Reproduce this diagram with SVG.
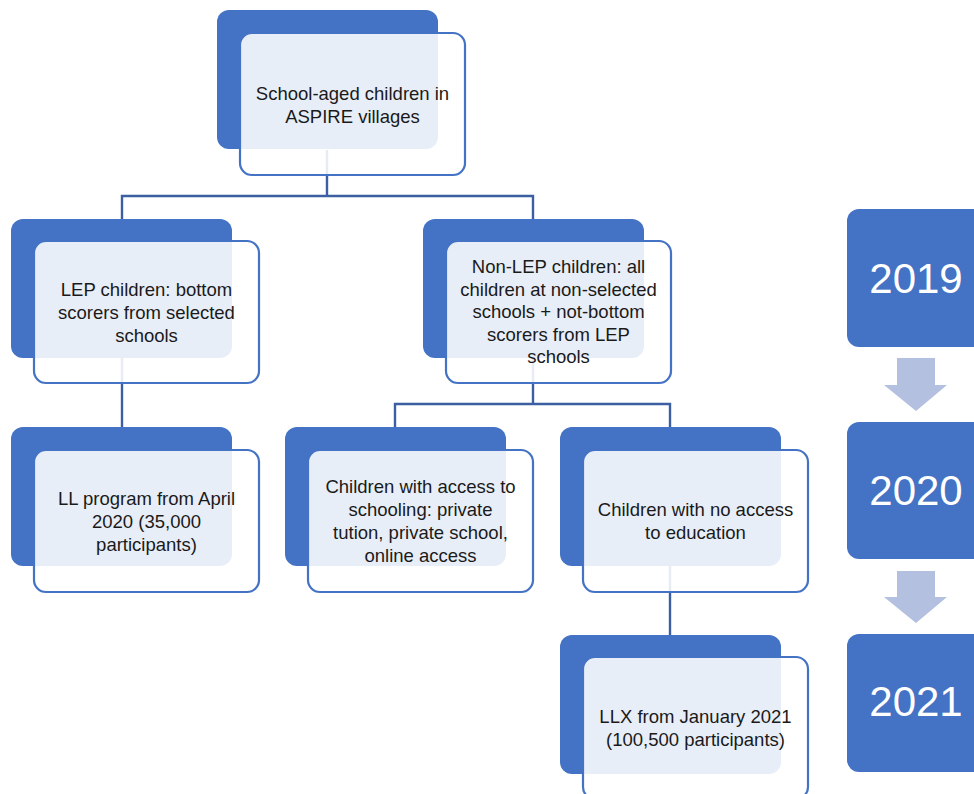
<svg xmlns="http://www.w3.org/2000/svg" width="974" height="794" viewBox="0 0 974 794">
<defs>
<style>
.back{fill:#4472C4;}
.front{fill:#ffffff;fill-opacity:0.88;stroke:#4472C4;stroke-width:2.2;}
.t{font-family:"Liberation Sans",Arial,sans-serif;font-size:18.5px;fill:#1a1a1a;text-anchor:middle;}
.yr{fill:#4472C4;}
.yt{font-family:"Liberation Sans",Arial,sans-serif;font-size:42px;fill:#ffffff;text-anchor:middle;}
.conn{fill:none;stroke:#3C5FA3;stroke-width:2.4;}
.arr{fill:#B3C0E0;}
</style>
</defs>
<rect width="974" height="794" fill="#ffffff"/>
<g id="connectors">
<path class="conn" d="M327,150 V196 M122,219 V196 H533 V219"/>
<path class="conn" d="M122,358 V427"/>
<path class="conn" d="M533,358 V404 M395,427 V404 H670 V427"/>
<path class="conn" d="M670,566 V635"/>
</g>
<g id="n-top">
<rect class="back" x="217" y="10" width="221" height="139" rx="12"/>
<rect class="front" x="240" y="33" width="225" height="142" rx="12"/>
<text class="t" x="352.5" y="100"><tspan x="352.5">School-aged children in</tspan><tspan x="352.5" dy="23">ASPIRE villages</tspan></text>
</g>
<g id="n-lep">
<rect class="back" x="11" y="219" width="221" height="139" rx="12"/>
<rect class="front" x="34" y="241" width="225" height="142" rx="12"/>
<text class="t" x="146.5" y="296"><tspan x="146.5">LEP children: bottom</tspan><tspan x="146.5" dy="23">scorers from selected</tspan><tspan x="146.5" dy="23">schools</tspan></text>
</g>
<g id="n-nonlep">
<rect class="back" x="423" y="219" width="221" height="139" rx="12"/>
<rect class="front" x="446" y="241" width="225" height="142" rx="12"/>
<text class="t" x="558.5" y="273"><tspan x="558.5">Non-LEP children: all</tspan><tspan x="558.5" dy="22.5">children at non-selected</tspan><tspan x="558.5" dy="22.5">schools + not-bottom</tspan><tspan x="558.5" dy="22.5">scorers from LEP</tspan><tspan x="558.5" dy="22.5">schools</tspan></text>
</g>
<g id="n-ll">
<rect class="back" x="11" y="427" width="221" height="139" rx="12"/>
<rect class="front" x="34" y="450" width="225" height="142" rx="12"/>
<text class="t" x="146.5" y="505"><tspan x="146.5">LL program from April</tspan><tspan x="146.5" dy="23">2020 (35,000</tspan><tspan x="146.5" dy="23">participants)</tspan></text>
</g>
<g id="n-access">
<rect class="back" x="285" y="427" width="221" height="139" rx="12"/>
<rect class="front" x="308" y="450" width="225" height="142" rx="12"/>
<text class="t" x="420.5" y="493"><tspan x="420.5">Children with access to</tspan><tspan x="420.5" dy="23">schooling: private</tspan><tspan x="420.5" dy="23">tution, private school,</tspan><tspan x="420.5" dy="23">online access</tspan></text>
</g>
<g id="n-noaccess">
<rect class="back" x="560" y="427" width="221" height="139" rx="12"/>
<rect class="front" x="583" y="450" width="225" height="142" rx="12"/>
<text class="t" x="695.5" y="516"><tspan x="695.5">Children with no access</tspan><tspan x="695.5" dy="23">to education</tspan></text>
</g>
<g id="n-llx">
<rect class="back" x="560" y="635" width="221" height="139" rx="12"/>
<rect class="front" x="583" y="657" width="225" height="142" rx="12"/>
<text class="t" x="695.5" y="723"><tspan x="695.5">LLX from January 2021</tspan><tspan x="695.5" dy="23">(100,500 participants)</tspan></text>
</g>
<g id="y2019">
<rect class="yr" x="847" y="209" width="150" height="138" rx="12"/>
<text class="yt" x="916" y="293">2019</text>
</g>
<g id="a1">
<polygon class="arr" points="897,358 935,358 935,385 947,385 916,411 884,385 897,385"/>
</g>
<g id="y2020">
<rect class="yr" x="847" y="422" width="150" height="137" rx="12"/>
<text class="yt" x="916" y="505">2020</text>
</g>
<g id="a2">
<polygon class="arr" points="897,571 935,571 935,597 947,597 916,623 884,597 897,597"/>
</g>
<g id="y2021">
<rect class="yr" x="847" y="634" width="150" height="138" rx="12"/>
<text class="yt" x="916" y="716">2021</text>
</g>
</svg>
